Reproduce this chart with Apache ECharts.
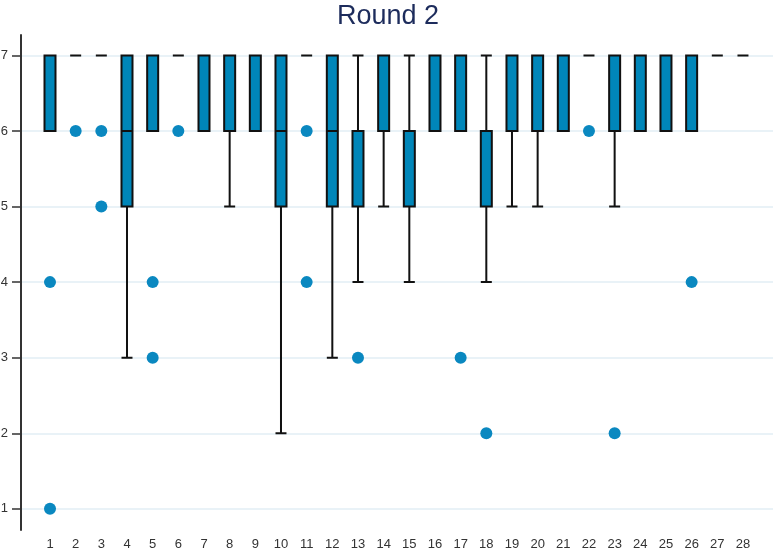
<!DOCTYPE html>
<html>
<head>
<meta charset="utf-8">
<script src="https://cdn.jsdelivr.net/npm/echarts@6/dist/echarts.min.js"></script>
<style>html,body{margin:0;padding:0;background:#fff}#c{width:776px;height:549px}</style>
</head>
<body>
<div id="c"></div>
<script>
const categories = [1,2,3,4,5,6,7,8,9,10,11,12,13,14,15,16,17,18,19,20,21,22,23,24,25,26,27,28];
// [min, Q1, median, Q3, max] per category
const boxValues = [
  [6,6,6,7,7],
  [7,7,7,7,7],
  [7,7,7,7,7],
  [3,5,6,7,7],
  [6,6,6,7,7],
  [7,7,7,7,7],
  [6,6,6,7,7],
  [5,6,6,7,7],
  [6,6,6,7,7],
  [2,5,6,7,7],
  [7,7,7,7,7],
  [3,5,6,7,7],
  [4,5,5,6,7],
  [5,6,6,7,7],
  [4,5,5,6,7],
  [6,6,6,7,7],
  [6,6,6,7,7],
  [4,5,5,6,7],
  [5,6,6,7,7],
  [5,6,6,7,7],
  [6,6,6,7,7],
  [7,7,7,7,7],
  [5,6,6,7,7],
  [6,6,6,7,7],
  [6,6,6,7,7],
  [6,6,6,7,7],
  [7,7,7,7,7],
  [7,7,7,7,7]
];
// outliers: [category, value]
const outliers = [
  [1,4],[1,1],[2,6],[3,6],[3,5],[5,4],[5,3],[6,6],[11,6],[11,4],
  [13,3],[17,3],[18,2],[22,6],[23,2],[26,4]
];
const yTicks = [1,2,3,4,5,6,7];
const titleText = 'Round 2';

const boxData = categories.map((c, i) => [c].concat(boxValues[i]));

const chart = echarts.init(document.getElementById('c'), null, {renderer: 'canvas'});
chart.setOption({
  animation: false,
  title: {
    text: titleText,
    left: 'center',
    top: -2,
    textStyle: {fontSize: 27, fontWeight: 'normal', color: '#1d2c5c', fontFamily: 'Liberation Sans, Arial, sans-serif'}
  },
  grid: {left: 21, right: 3, top: 35, bottom: 19, containLabel: false, outerBoundsMode: 'none'},
  xAxis: {
    type: 'value',
    min: -0.13,
    max: 29.17,
    axisLine: {show: false, onZero: false},
    axisTick: {show: false, customValues: categories},
    splitLine: {show: false},
    axisLabel: {
      customValues: categories,
      margin: 8,
      color: '#333',
      fontSize: 13,
      fontFamily: 'Liberation Sans, Arial, sans-serif'
    }
  },
  yAxis: {
    type: 'value',
    min: 0.72,
    max: 7.27,
    axisLine: {show: true, onZero: false, lineStyle: {color: '#333', width: 2}},
    axisTick: {show: true, customValues: yTicks, length: 9, lineStyle: {color: '#333', width: 1.5}},
    splitLine: {show: true, lineStyle: {color: '#e2eef4', width: 1.5}},
    axisLabel: {
      customValues: yTicks,
      margin: 13,
      color: '#333',
      fontSize: 13,
      fontFamily: 'Liberation Sans, Arial, sans-serif'
    }
  },
  series: [
    {
      type: 'boxplot',
      layout: 'horizontal',
      boxWidth: [11, 11],
      data: boxData,
      itemStyle: {color: '#0086b9', borderColor: '#111', borderWidth: 2}
    },
    {
      type: 'scatter',
      data: outliers,
      symbol: 'circle',
      symbolSize: 12,
      itemStyle: {color: '#0a88c0', opacity: 1}
    }
  ]
});
</script>
</body>
</html>
